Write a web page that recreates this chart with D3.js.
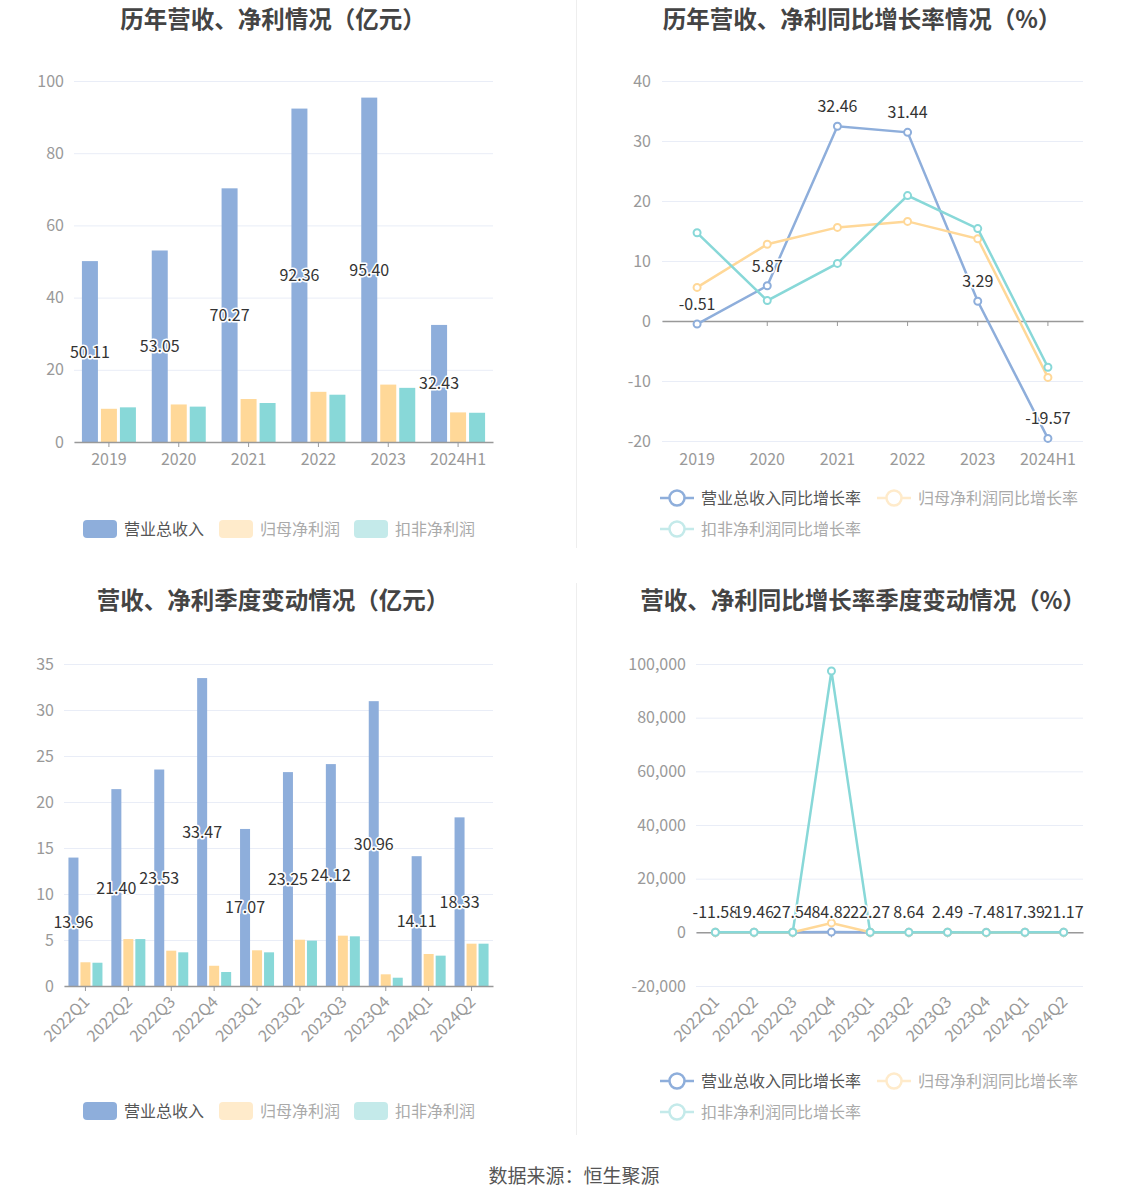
<!DOCTYPE html>
<html>
<head>
<meta charset="utf-8">
<script src="https://cdn.jsdelivr.net/npm/d3@7"></script>
<style>
  html, body { margin: 0; padding: 0; background: #fff; }
  svg { display: block; font-family: "Noto Sans CJK SC", "Noto Sans", sans-serif; }
</style>
</head>
<body>
<svg id="chart" width="1147" height="1202"></svg>
<script>
// ---------------- DATA ----------------
const years = ["2019", "2020", "2021", "2022", "2023", "2024H1"];
const revenue = [50.11, 53.05, 70.27, 92.36, 95.40, 32.43];
const netProfit = [9.2, 10.4, 11.9, 13.9, 15.9, 8.2];
const deductedProfit = [9.6, 9.8, 10.8, 13.1, 15.0, 8.1];

const revenueGrowth = [-0.51, 5.87, 32.46, 31.44, 3.29, -19.57];
const netProfitGrowth = [5.6, 12.8, 15.6, 16.6, 13.7, -9.4];
const deductedGrowth = [14.7, 3.4, 9.6, 20.9, 15.4, -7.7];

const quarters = ["2022Q1", "2022Q2", "2022Q3", "2022Q4", "2023Q1", "2023Q2", "2023Q3", "2023Q4", "2024Q1", "2024Q2"];
const qRevenue = [13.96, 21.40, 23.53, 33.47, 17.07, 23.25, 24.12, 30.96, 14.11, 18.33];
const qNetProfit = [2.58, 5.1, 3.84, 2.2, 3.88, 5.03, 5.47, 1.27, 3.48, 4.6];
const qDeducted = [2.53, 5.1, 3.66, 1.52, 3.66, 4.93, 5.4, 0.9, 3.3, 4.6];

const qRevenueGrowth = [-11.58, 19.46, 27.54, 84.82, 22.27, 8.64, 2.49, -7.48, 17.39, 21.17];
const qNetProfitGrowth = [12.5, 25.3, 30.1, 3500, 50.4, -1.4, 42.4, -42.3, -10.3, -8.5];
const qDeductedGrowth = [10.2, 22.8, 28.6, 97400, 44.6, -3.3, 47.5, -40.8, -9.8, -6.7];

const barSeriesNames = ["营业总收入", "归母净利润", "扣非净利润"];
const lineSeriesNames = ["营业总收入同比增长率", "归母净利润同比增长率", "扣非净利润同比增长率"];
const titles = ["历年营收、净利情况（亿元）", "历年营收、净利同比增长率情况（%）",
                "营收、净利季度变动情况（亿元）", "营收、净利同比增长率季度变动情况（%）"];
const sourceText = "数据来源：恒生聚源";

// ---------------- STYLE ----------------
const colors = ["#8eaedb", "#ffd898", "#88d8d8"];
const paleColors = ["#8eaedb", "#ffebcb", "#c4eaea"];
const legendTextColors = ["#555", "#aaa", "#aaa"];
const gridColor = "#e9edf7";
const axisColor = "#999";
const tickTextColor = "#999";

const svg = d3.select("#chart");

// dividers
svg.append("line").attr("x1", 576.5).attr("x2", 576.5).attr("y1", 0).attr("y2", 548)
  .attr("stroke", "#eeeeee").attr("stroke-width", 1);
svg.append("line").attr("x1", 576.5).attr("x2", 576.5).attr("y1", 583).attr("y2", 1135)
  .attr("stroke", "#eeeeee").attr("stroke-width", 1);

// titles
const titlePos = [[273, 28], [862, 28], [273, 609], [863, 609]];
titles.forEach((t, i) => {
  svg.append("text").attr("x", titlePos[i][0]).attr("y", titlePos[i][1])
    .attr("text-anchor", "middle").attr("font-size", 23.5).attr("font-weight", "bold")
    .attr("fill", "#444").text(t);
});

svg.append("text").attr("x", 574).attr("y", 1183).attr("text-anchor", "middle")
  .attr("font-size", 19).attr("fill", "#555").text(sourceText);

const hyphen = f => (d => f(d).replace("\u2212", "-"));

function haloText(g, x, y, txt) {
  g.append("text").attr("x", x).attr("y", y).attr("text-anchor", "middle")
    .attr("font-size", 16).attr("fill", "#333")
    .attr("stroke", "#fff").attr("stroke-width", 3).attr("stroke-linejoin", "round")
    .attr("paint-order", "stroke").text(txt);
}

function yAxisGrid(g, y, ticks, x0, x1, fmt, labelX) {
  const ga = g.append("g").attr("transform", `translate(${x0},0)`)
    .call(d3.axisLeft(y).tickValues(ticks).tickSize(-(x1 - x0)).tickPadding(x0 - labelX).tickFormat(hyphen(fmt)));
  ga.select(".domain").remove();
  ga.selectAll(".tick line").attr("stroke", gridColor);
  ga.selectAll(".tick text").attr("fill", tickTextColor).attr("font-size", 16)
    .attr("font-family", "'Noto Sans CJK SC', sans-serif");
}

function xAxis(g, x, yPos, labelY, rotate) {
  const ga = g.append("g").attr("transform", `translate(0,${yPos})`)
    .call(d3.axisBottom(x).tickSize(5).tickSizeOuter(0));
  ga.select(".domain").attr("stroke", axisColor).attr("stroke-width", 1.5);
  ga.selectAll(".tick line").attr("stroke", axisColor);
  const t = ga.selectAll(".tick text").attr("fill", tickTextColor).attr("font-size", 16)
    .attr("font-family", "'Noto Sans CJK SC', sans-serif");
  if (rotate) {
    t.attr("text-anchor", "end").attr("y", 0).attr("dy", "0.35em")
      .attr("transform", `translate(1,${labelY - yPos}) rotate(-45)`);
  } else {
    t.attr("y", labelY - yPos).attr("dy", "0.35em");
  }
}

// ---------------- BAR CHART ----------------
function barChart(cfg) {
  const g = svg.append("g");
  const x0 = d3.scaleBand().domain(cfg.cats).range([cfg.left, cfg.right]);
  const y = d3.scaleLinear().domain(cfg.yDomain).range([cfg.bottom, cfg.top]);
  yAxisGrid(g, y, cfg.yTicks, cfg.left, cfg.right, d3.format("d"), cfg.labelX);
  const groupW = cfg.barW * 3 + cfg.gap * 2;
  const x1 = d3.scaleBand().domain([0, 1, 2])
    .range([(x0.bandwidth() - groupW) / 2, (x0.bandwidth() + groupW) / 2])
    .paddingInner(cfg.gap / (cfg.barW + cfg.gap));
  const series = cfg.series;
  series.forEach((vals, si) => {
    g.append("g").selectAll("rect").data(vals).join("rect")
      .attr("x", (d, i) => x0(cfg.cats[i]) + x1(si))
      .attr("width", x1.bandwidth())
      .attr("y", d => y(d))
      .attr("height", d => y(0) - y(d))
      .attr("fill", colors[si]);
  });
  xAxis(g, x0, cfg.bottom, cfg.xLabelY, cfg.rotate);
  // labels on revenue bars
  series[0].forEach((d, i) => {
    const cx = x0(cfg.cats[i]) + x1(0) + x1.bandwidth() / 2;
    const cy = (y(d) + y(0)) / 2;
    haloText(g, cx, cy + 6, d.toFixed(2));
  });
  // legend
  const lg = svg.append("g");
  cfg.legendX.forEach((lx, i) => {
    lg.append("rect").attr("x", lx).attr("y", cfg.legendY - 9).attr("width", 34).attr("height", 18)
      .attr("rx", 4).attr("fill", paleColors[i]);
    lg.append("text").attr("x", lx + 41).attr("y", cfg.legendY + 6).attr("font-size", 16)
      .attr("fill", legendTextColors[i]).text(barSeriesNames[i]);
  });
}

// ---------------- LINE CHART ----------------
function lineChart(cfg) {
  const g = svg.append("g");
  const x = d3.scaleBand().domain(cfg.cats).range([cfg.left, cfg.right]);
  const cx = c => x(c) + x.bandwidth() / 2;
  const y = d3.scaleLinear().domain(cfg.yDomain).range([cfg.bottom, cfg.top]);
  yAxisGrid(g, y, cfg.yTicks, cfg.left, cfg.right, cfg.fmt, cfg.labelX);
  xAxis(g, x, y(0), cfg.xLabelY, cfg.rotate);
  const line = d3.line().x((d, i) => cx(cfg.cats[i])).y(d => y(d));
  cfg.series.forEach((vals, si) => {
    g.append("path").datum(vals).attr("d", line).attr("fill", "none")
      .attr("stroke", colors[si]).attr("stroke-width", 2.5);
    g.append("g").selectAll("circle").data(vals).join("circle")
      .attr("cx", (d, i) => cx(cfg.cats[i])).attr("cy", d => y(d)).attr("r", 3.5)
      .attr("fill", "#fff").attr("stroke", colors[si]).attr("stroke-width", 2);
  });
  cfg.series[0].forEach((d, i) => {
    haloText(g, cx(cfg.cats[i]), y(d) - 14, d.toFixed(2));
  });
  // legend
  const lg = svg.append("g");
  const pos = cfg.legendPos;
  pos.forEach((p, i) => {
    const c = i === 0 ? colors[0] : paleColors[i];
    lg.append("line").attr("x1", p[0]).attr("x2", p[0] + 34).attr("y1", p[1]).attr("y2", p[1])
      .attr("stroke", c).attr("stroke-width", 2.5);
    lg.append("circle").attr("cx", p[0] + 17).attr("cy", p[1]).attr("r", 7.5)
      .attr("fill", "#fff").attr("stroke", c).attr("stroke-width", 2.5);
    lg.append("text").attr("x", p[0] + 41).attr("y", p[1] + 6).attr("font-size", 16)
      .attr("fill", legendTextColors[i]).text(lineSeriesNames[i]);
  });
}

barChart({
  cats: years, series: [revenue, netProfit, deductedProfit],
  left: 74, right: 493, top: 81, bottom: 442, yDomain: [0, 100], yTicks: [0, 20, 40, 60, 80, 100],
  labelX: 64, barW: 16, gap: 3, xLabelY: 459, rotate: false,
  legendX: [83, 219, 354], legendY: 529
});

lineChart({
  cats: years, series: [revenueGrowth, netProfitGrowth, deductedGrowth],
  left: 662, right: 1083, top: 81, bottom: 441, yDomain: [-20, 40], yTicks: [-20, -10, 0, 10, 20, 30, 40],
  fmt: d3.format("d"), labelX: 651, xLabelY: 459, rotate: false,
  legendPos: [[660, 498], [877, 498], [660, 529]]
});

barChart({
  cats: quarters, series: [qRevenue, qNetProfit, qDeducted],
  left: 64, right: 493, top: 664, bottom: 986, yDomain: [0, 35], yTicks: [0, 5, 10, 15, 20, 25, 30, 35],
  labelX: 54, barW: 10, gap: 2, xLabelY: 999, rotate: true,
  legendX: [83, 219, 354], legendY: 1111
});

lineChart({
  cats: quarters, series: [qRevenueGrowth, qNetProfitGrowth, qDeductedGrowth],
  left: 696, right: 1083, top: 664, bottom: 986, yDomain: [-20000, 100000],
  yTicks: [-20000, 0, 20000, 40000, 60000, 80000, 100000],
  fmt: d3.format(","), labelX: 686, xLabelY: 999, rotate: true,
  legendPos: [[660, 1081], [877, 1081], [660, 1112]]
});
</script>
</body>
</html>
